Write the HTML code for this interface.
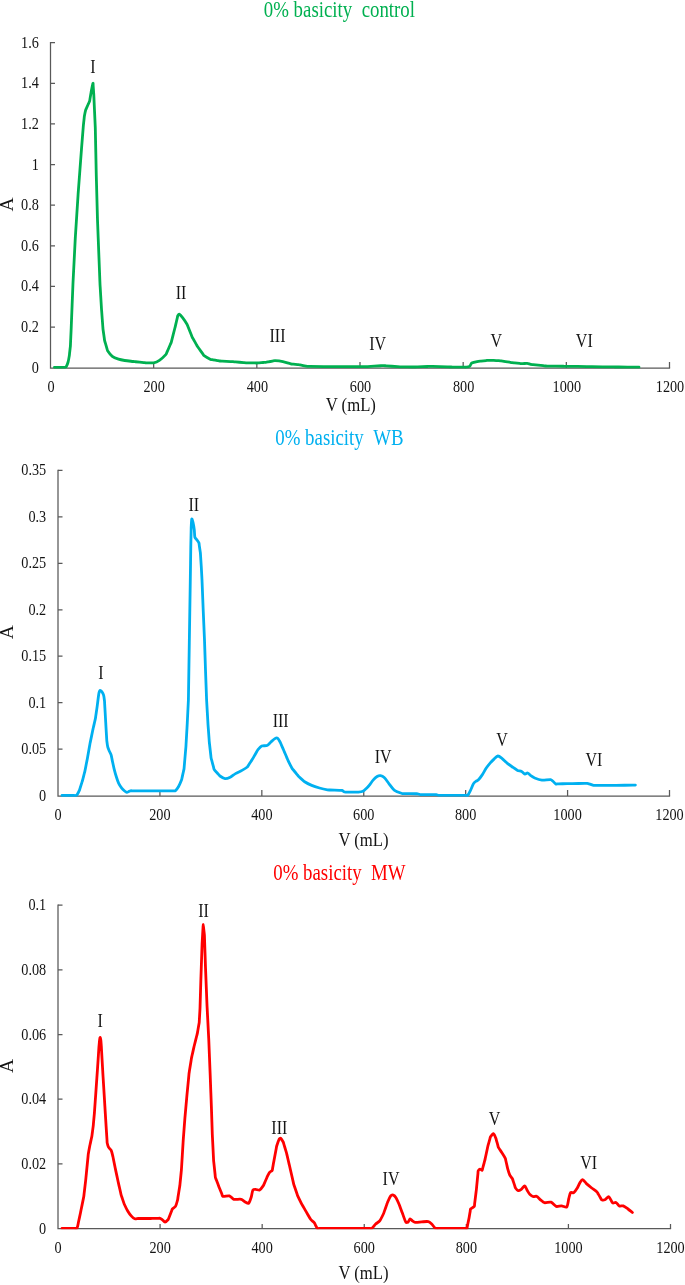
<!DOCTYPE html>
<html><head><meta charset="utf-8"><title>chart</title>
<style>
html,body{margin:0;padding:0;background:#fff;overflow:hidden}
svg{display:block;will-change:transform;font-family:"Liberation Serif","Times New Roman",serif}
</style></head><body>
<svg width="685" height="1285" viewBox="0 0 685 1285">
<rect width="685" height="1285" fill="#fff"/>
<path d="M50.50 42.08 V368.00 H670.12" fill="none" stroke="#595959" stroke-width="1.25"/>
<path d="M50.50 327.07h4.50M50.50 286.45h4.50M50.50 245.82h4.50M50.50 205.20h4.50M50.50 164.57h4.50M50.50 123.95h4.50M50.50 83.32h4.50M50.50 42.70h4.50M153.67 368.00v-6.00M256.83 368.00v-6.00M360.00 368.00v-6.00M463.17 368.00v-6.00M566.33 368.00v-6.00M669.50 368.00v-6.00" fill="none" stroke="#595959" stroke-width="1.25"/>
<text transform="translate(38.90 372.70) scale(0.890 1)" font-size="16.00" text-anchor="end" fill="#141414">0</text>
<text transform="translate(38.90 332.07) scale(0.890 1)" font-size="16.00" text-anchor="end" fill="#141414">0.2</text>
<text transform="translate(38.90 291.45) scale(0.890 1)" font-size="16.00" text-anchor="end" fill="#141414">0.4</text>
<text transform="translate(38.90 250.82) scale(0.890 1)" font-size="16.00" text-anchor="end" fill="#141414">0.6</text>
<text transform="translate(38.90 210.20) scale(0.890 1)" font-size="16.00" text-anchor="end" fill="#141414">0.8</text>
<text transform="translate(38.90 169.57) scale(0.890 1)" font-size="16.00" text-anchor="end" fill="#141414">1</text>
<text transform="translate(38.90 128.95) scale(0.890 1)" font-size="16.00" text-anchor="end" fill="#141414">1.2</text>
<text transform="translate(38.90 88.32) scale(0.890 1)" font-size="16.00" text-anchor="end" fill="#141414">1.4</text>
<text transform="translate(38.90 47.70) scale(0.890 1)" font-size="16.00" text-anchor="end" fill="#141414">1.6</text>
<text transform="translate(51.00 392.00) scale(0.890 1)" font-size="16.00" text-anchor="middle" fill="#141414">0</text>
<text transform="translate(154.17 392.00) scale(0.890 1)" font-size="16.00" text-anchor="middle" fill="#141414">200</text>
<text transform="translate(257.33 392.00) scale(0.890 1)" font-size="16.00" text-anchor="middle" fill="#141414">400</text>
<text transform="translate(360.50 392.00) scale(0.890 1)" font-size="16.00" text-anchor="middle" fill="#141414">600</text>
<text transform="translate(463.67 392.00) scale(0.890 1)" font-size="16.00" text-anchor="middle" fill="#141414">800</text>
<text transform="translate(566.83 392.00) scale(0.890 1)" font-size="16.00" text-anchor="middle" fill="#141414">1000</text>
<text transform="translate(670.00 392.00) scale(0.890 1)" font-size="16.00" text-anchor="middle" fill="#141414">1200</text>
<text transform="translate(350.80 410.60) scale(0.880 1)" font-size="19.00" text-anchor="middle" fill="#141414">V (mL)</text>
<text transform="translate(12.80 204.40) rotate(-90) scale(1.037 1)" font-size="18.80" text-anchor="middle" fill="#141414">A</text>
<text transform="translate(339.40 16.80) scale(0.802 1)" font-size="23.50" text-anchor="middle" fill="#00B050">0% basicity&#160;&#160;control</text>
<clipPath id="c368"><rect x="0" y="2.70" width="685" height="365.98"/></clipPath>
<path clip-path="url(#c368)" d="M54.40 367.30C55.07 367.30 56.23 367.30 56.90 367.30C58.37 367.30 60.93 367.30 62.40 367.30C63.07 367.30 64.25 367.39 64.90 367.30C65.26 367.25 66.02 367.10 66.20 366.80C66.87 365.69 67.73 363.32 68.10 362.00C68.56 360.36 69.02 357.39 69.30 355.70C69.41 355.04 69.51 353.88 69.58 353.22C69.72 351.95 69.98 349.75 70.12 348.48C70.19 347.82 70.35 346.66 70.40 346.00C70.45 345.34 70.48 344.17 70.51 343.50C70.67 340.06 70.93 334.04 71.09 330.60C71.12 329.93 71.17 328.77 71.20 328.10C71.23 327.43 71.27 326.27 71.30 325.60C71.73 314.91 72.47 296.19 72.90 285.50C72.93 284.83 72.97 283.67 73.00 283.00C73.03 282.33 73.09 281.17 73.13 280.50C73.67 269.81 74.63 251.09 75.17 240.40C75.21 239.73 75.26 238.57 75.30 237.90C75.34 237.23 75.42 236.07 75.46 235.41C76.15 224.71 77.35 205.99 78.04 195.29C78.08 194.63 78.15 193.47 78.20 192.80C78.25 192.13 78.34 190.97 78.39 190.31C79.19 179.61 80.61 160.89 81.41 150.19C81.46 149.53 81.55 148.36 81.60 147.70C81.65 147.04 81.75 145.87 81.80 145.21C82.17 140.51 82.83 132.29 83.20 127.59C83.25 126.93 83.34 125.76 83.40 125.10C83.46 124.44 83.60 123.28 83.67 122.61C83.79 121.51 84.01 119.59 84.13 118.49C84.20 117.82 84.28 116.66 84.40 116.00C84.70 114.37 85.26 111.50 85.70 109.90C85.88 109.26 86.44 108.22 86.71 107.61C87.21 106.49 88.09 104.51 88.59 103.39C88.86 102.78 89.41 101.73 89.60 101.10C89.79 100.47 89.91 99.29 90.02 98.64C90.30 96.99 90.80 94.11 91.08 92.46C91.19 91.81 91.36 90.65 91.50 90.00C91.88 88.21 92.67 84.12 93.00 83.30C93.12 83.00 93.13 85.13 93.17 85.79C93.29 87.56 93.51 90.64 93.63 92.41C93.67 93.07 93.76 94.23 93.80 94.90C93.84 95.57 93.88 96.73 93.91 97.40C94.25 104.89 94.85 118.01 95.19 125.50C95.22 126.17 95.28 127.33 95.30 128.00C95.32 128.67 95.34 129.83 95.35 130.50C95.59 141.97 96.01 162.03 96.25 173.50C96.26 174.17 96.28 175.33 96.30 176.00C96.32 176.67 96.35 177.83 96.37 178.50C96.65 188.90 97.15 207.10 97.43 217.50C97.45 218.17 97.48 219.33 97.50 220.00C97.52 220.67 97.57 221.83 97.60 222.50C97.92 230.77 98.48 245.23 98.80 253.50C98.83 254.17 98.87 255.33 98.90 256.00C98.93 256.67 98.97 257.83 99.00 258.50C99.24 264.63 99.66 275.37 99.90 281.50C99.93 282.17 99.97 283.33 100.00 284.00C100.03 284.67 100.11 285.83 100.15 286.50C100.47 291.83 101.03 301.17 101.35 306.50C101.39 307.17 101.46 308.33 101.50 309.00C101.54 309.67 101.64 310.83 101.69 311.49C101.99 315.50 102.51 322.50 102.81 326.51C102.86 327.17 102.93 328.34 103.00 329.00C103.07 329.66 103.25 330.82 103.34 331.48C103.59 333.22 104.01 336.28 104.26 338.02C104.35 338.68 104.46 339.85 104.60 340.50C104.74 341.15 105.12 342.26 105.31 342.90C105.73 344.34 106.47 346.86 106.89 348.30C107.08 348.94 107.24 350.15 107.60 350.70C108.68 352.31 110.79 355.22 112.30 356.40C113.69 357.49 116.79 358.63 118.50 359.20C120.09 359.73 123.03 360.24 124.70 360.50C126.93 360.85 130.86 361.24 133.10 361.50C133.76 361.58 134.92 361.68 135.59 361.75C137.78 361.96 141.62 362.34 143.81 362.55C144.48 362.62 145.63 362.78 146.30 362.80C148.24 362.85 151.72 363.14 153.60 362.80C155.22 362.50 158.03 361.33 159.40 360.40C161.34 359.09 164.42 356.13 166.00 354.40C166.44 353.92 166.73 352.72 167.00 352.11C167.85 350.16 169.35 346.74 170.20 344.79C170.47 344.18 170.98 343.13 171.20 342.50C171.42 341.87 171.65 340.72 171.82 340.08C172.55 337.18 173.85 332.12 174.58 329.22C174.75 328.58 175.04 327.45 175.20 326.80C175.36 326.15 175.62 325.01 175.77 324.37C176.16 322.70 176.84 319.80 177.23 318.13C177.38 317.49 177.49 316.26 177.80 315.70C178.07 315.21 179.00 314.00 179.40 314.20C180.42 314.72 182.20 317.21 183.10 318.40C184.23 319.88 186.05 322.61 187.00 324.20C187.34 324.77 187.69 325.90 187.94 326.52C188.85 328.77 190.45 332.73 191.36 334.98C191.61 335.60 192.01 336.70 192.30 337.30C192.59 337.90 193.20 338.90 193.53 339.48C194.26 340.77 195.54 343.03 196.27 344.32C196.60 344.90 197.14 345.94 197.50 346.50C197.86 347.06 198.57 347.99 198.96 348.53C199.94 349.90 201.66 352.30 202.64 353.67C203.03 354.21 203.57 355.32 204.10 355.70C205.69 356.85 208.81 358.57 210.60 359.40C211.20 359.68 212.41 359.71 213.06 359.83C214.20 360.03 216.20 360.37 217.34 360.57C217.99 360.69 219.14 360.93 219.80 361.00C220.46 361.07 221.63 361.10 222.30 361.13C224.49 361.25 228.31 361.45 230.50 361.57C231.17 361.60 232.33 361.65 233.00 361.70C233.67 361.75 234.83 361.85 235.49 361.91C237.66 362.09 241.44 362.41 243.61 362.59C244.27 362.65 245.43 362.77 246.10 362.80C246.77 362.83 247.93 362.83 248.60 362.85C250.07 362.88 252.63 362.92 254.10 362.95C254.77 362.97 255.93 363.02 256.60 363.00C257.27 362.98 258.43 362.86 259.09 362.81C260.22 362.72 262.18 362.58 263.31 362.49C263.97 362.44 265.14 362.38 265.80 362.30C266.46 362.22 267.61 361.99 268.26 361.87C269.40 361.67 271.40 361.33 272.54 361.13C273.19 361.01 274.34 360.66 275.00 360.70C277.10 360.82 280.82 361.29 282.90 361.70C285.03 362.12 288.68 363.31 290.80 363.80C291.45 363.95 292.62 364.02 293.28 364.10C294.41 364.23 296.39 364.47 297.52 364.60C298.18 364.68 299.34 364.78 300.00 364.90C302.01 365.26 305.49 366.09 307.50 366.40C308.16 366.50 309.33 366.42 310.00 366.42C317.33 366.49 330.17 366.61 337.50 366.68C338.17 366.68 339.33 366.70 340.00 366.70C340.67 366.70 341.83 366.70 342.50 366.70C347.83 366.70 357.17 366.70 362.50 366.70C363.17 366.70 364.33 366.72 365.00 366.70C365.67 366.68 366.83 366.59 367.50 366.55C371.07 366.34 377.33 365.96 380.90 365.75C381.57 365.71 382.73 365.59 383.40 365.60C384.07 365.61 385.23 365.74 385.89 365.80C388.99 366.04 394.41 366.46 397.51 366.70C398.17 366.76 399.33 366.87 400.00 366.90C400.67 366.93 401.83 366.91 402.50 366.92C405.17 366.93 409.83 366.97 412.50 366.98C413.17 366.99 414.33 367.01 415.00 367.00C415.67 366.99 416.83 366.93 417.50 366.90C420.17 366.79 424.83 366.61 427.50 366.50C428.17 366.47 429.33 366.40 430.00 366.40C430.67 366.40 431.83 366.45 432.50 366.47C436.50 366.59 443.50 366.81 447.50 366.93C448.17 366.95 449.33 366.99 450.00 367.00C450.67 367.01 451.83 367.02 452.50 367.03C455.43 367.07 460.57 367.13 463.50 367.17C464.17 367.18 465.34 367.28 466.00 367.20C466.97 367.08 468.86 366.93 469.60 366.40C470.41 365.81 470.92 363.50 471.80 363.00C473.30 362.14 476.70 361.68 478.50 361.30C479.15 361.16 480.32 361.12 480.99 361.05C482.35 360.92 484.75 360.68 486.11 360.55C486.78 360.48 487.94 360.32 488.60 360.30C489.26 360.28 490.43 360.35 491.10 360.37C492.46 360.41 494.84 360.49 496.20 360.53C496.87 360.55 498.04 360.54 498.70 360.60C499.36 360.66 500.51 360.87 501.17 360.97C503.43 361.31 507.37 361.89 509.63 362.23C510.29 362.33 511.44 362.51 512.10 362.60C512.76 362.69 513.92 362.80 514.59 362.87C515.95 363.02 518.35 363.28 519.71 363.43C520.38 363.50 521.54 363.71 522.20 363.70C523.53 363.68 525.89 363.21 527.20 363.30C528.13 363.37 529.68 364.10 530.60 364.30C531.25 364.44 532.42 364.51 533.08 364.58C535.79 364.88 540.51 365.42 543.22 365.72C543.88 365.79 545.04 365.96 545.70 366.00C546.36 366.04 547.53 366.03 548.20 366.04C552.23 366.10 559.27 366.20 563.30 366.26C563.97 366.27 565.13 366.29 565.80 366.30C566.47 366.31 567.63 366.32 568.30 366.33C573.23 366.39 581.87 366.51 586.80 366.57C587.47 366.58 588.63 366.59 589.30 366.60C589.97 366.61 591.13 366.63 591.80 366.64C597.64 366.72 607.86 366.88 613.70 366.96C614.37 366.97 615.53 366.99 616.20 367.00C616.87 367.01 618.03 367.02 618.70 367.02C623.45 367.06 631.75 367.14 636.50 367.18C637.17 367.18 638.33 367.19 639.00 367.20" fill="none" stroke="#00B050" stroke-width="2.80" stroke-linejoin="round" stroke-linecap="round"/>
<text transform="translate(93.00 73.00) scale(0.820 1)" font-size="19.50" text-anchor="middle" fill="#141414">I</text>
<text transform="translate(181.00 299.00) scale(0.820 1)" font-size="19.50" text-anchor="middle" fill="#141414">II</text>
<text transform="translate(277.50 342.00) scale(0.820 1)" font-size="19.50" text-anchor="middle" fill="#141414">III</text>
<text transform="translate(377.60 349.50) scale(0.820 1)" font-size="19.50" text-anchor="middle" fill="#141414">IV</text>
<text transform="translate(496.30 346.80) scale(0.820 1)" font-size="19.50" text-anchor="middle" fill="#141414">V</text>
<text transform="translate(584.30 346.80) scale(0.820 1)" font-size="19.50" text-anchor="middle" fill="#141414">VI</text>
<path d="M58.00 469.68 V796.00 H670.12" fill="none" stroke="#595959" stroke-width="1.25"/>
<path d="M58.00 749.21h4.50M58.00 702.73h4.50M58.00 656.24h4.50M58.00 609.76h4.50M58.00 563.27h4.50M58.00 516.79h4.50M58.00 470.30h4.50M159.92 796.00v-6.00M261.83 796.00v-6.00M363.75 796.00v-6.00M465.67 796.00v-6.00M567.58 796.00v-6.00M669.50 796.00v-6.00" fill="none" stroke="#595959" stroke-width="1.25"/>
<text transform="translate(46.20 800.70) scale(0.890 1)" font-size="16.00" text-anchor="end" fill="#141414">0</text>
<text transform="translate(46.20 754.21) scale(0.890 1)" font-size="16.00" text-anchor="end" fill="#141414">0.05</text>
<text transform="translate(46.20 707.73) scale(0.890 1)" font-size="16.00" text-anchor="end" fill="#141414">0.1</text>
<text transform="translate(46.20 661.24) scale(0.890 1)" font-size="16.00" text-anchor="end" fill="#141414">0.15</text>
<text transform="translate(46.20 614.76) scale(0.890 1)" font-size="16.00" text-anchor="end" fill="#141414">0.2</text>
<text transform="translate(46.20 568.27) scale(0.890 1)" font-size="16.00" text-anchor="end" fill="#141414">0.25</text>
<text transform="translate(46.20 521.79) scale(0.890 1)" font-size="16.00" text-anchor="end" fill="#141414">0.3</text>
<text transform="translate(46.20 475.30) scale(0.890 1)" font-size="16.00" text-anchor="end" fill="#141414">0.35</text>
<text transform="translate(58.00 819.80) scale(0.890 1)" font-size="16.00" text-anchor="middle" fill="#141414">0</text>
<text transform="translate(159.92 819.80) scale(0.890 1)" font-size="16.00" text-anchor="middle" fill="#141414">200</text>
<text transform="translate(261.83 819.80) scale(0.890 1)" font-size="16.00" text-anchor="middle" fill="#141414">400</text>
<text transform="translate(363.75 819.80) scale(0.890 1)" font-size="16.00" text-anchor="middle" fill="#141414">600</text>
<text transform="translate(465.67 819.80) scale(0.890 1)" font-size="16.00" text-anchor="middle" fill="#141414">800</text>
<text transform="translate(567.58 819.80) scale(0.890 1)" font-size="16.00" text-anchor="middle" fill="#141414">1000</text>
<text transform="translate(669.50 819.80) scale(0.890 1)" font-size="16.00" text-anchor="middle" fill="#141414">1200</text>
<text transform="translate(363.50 845.90) scale(0.880 1)" font-size="19.00" text-anchor="middle" fill="#141414">V (mL)</text>
<text transform="translate(12.80 632.20) rotate(-90) scale(1.037 1)" font-size="18.80" text-anchor="middle" fill="#141414">A</text>
<text transform="translate(339.40 444.70) scale(0.802 1)" font-size="23.50" text-anchor="middle" fill="#00B0F0">0% basicity&#160;&#160;WB</text>
<clipPath id="c796"><rect x="0" y="430.30" width="685" height="366.37"/></clipPath>
<path clip-path="url(#c796)" d="M62.00 795.50C62.67 795.50 63.83 795.50 64.50 795.50C66.85 795.50 70.95 795.50 73.30 795.50C73.97 795.50 75.15 795.59 75.80 795.50C76.11 795.46 76.73 795.26 76.90 795.00C77.74 793.74 78.96 791.22 79.60 789.80C79.87 789.19 80.15 788.05 80.34 787.41C80.72 786.21 81.38 784.09 81.76 782.89C81.95 782.25 82.32 781.14 82.50 780.50C82.68 779.86 82.95 778.72 83.12 778.08C83.43 776.86 83.97 774.74 84.28 773.52C84.45 772.88 84.75 771.75 84.90 771.10C85.05 770.45 85.25 769.30 85.38 768.65C85.74 766.84 86.36 763.66 86.72 761.85C86.85 761.20 87.08 760.06 87.20 759.40C87.32 758.74 87.52 757.60 87.64 756.94C88.18 753.90 89.12 748.60 89.66 745.56C89.78 744.90 89.97 743.75 90.10 743.10C90.23 742.45 90.47 741.30 90.61 740.65C91.11 738.22 91.99 733.98 92.49 731.55C92.63 730.90 92.86 729.75 93.00 729.10C93.14 728.45 93.41 727.31 93.56 726.66C93.90 725.16 94.50 722.54 94.84 721.04C94.99 720.39 95.28 719.25 95.40 718.60C95.52 717.95 95.66 716.79 95.76 716.13C96.02 714.33 96.48 711.17 96.74 709.37C96.84 708.71 97.01 707.56 97.10 706.90C97.19 706.24 97.33 705.08 97.42 704.42C97.57 703.24 97.83 701.16 97.98 699.98C98.07 699.32 98.20 698.16 98.30 697.50C98.50 696.11 98.78 693.65 99.10 692.30C99.23 691.76 99.65 690.48 100.00 690.40C100.37 690.32 101.45 691.24 101.80 691.70C102.41 692.52 103.31 694.20 103.60 695.20C104.03 696.68 104.31 699.45 104.50 701.00C104.58 701.66 104.60 702.83 104.64 703.50C104.78 705.90 105.02 710.10 105.16 712.50C105.20 713.17 105.26 714.33 105.30 715.00C105.34 715.67 105.40 716.83 105.44 717.50C105.58 719.92 105.82 724.18 105.96 726.60C106.00 727.27 106.06 728.43 106.10 729.10C106.14 729.77 106.21 730.93 106.25 731.60C106.36 733.36 106.54 736.44 106.65 738.20C106.69 738.87 106.72 740.04 106.80 740.70C107.02 742.44 107.38 745.51 107.80 747.20C108.08 748.33 108.93 750.22 109.40 751.30C109.81 752.25 110.79 753.82 111.10 754.80C111.57 756.30 111.97 759.06 112.30 760.60C112.77 762.79 113.56 766.63 114.10 768.80C114.65 771.00 115.72 774.84 116.40 777.00C116.94 778.73 117.92 781.77 118.70 783.40C119.34 784.73 120.79 786.93 121.70 788.10C122.37 788.96 123.76 790.31 124.60 791.00C125.15 791.45 126.27 792.31 126.90 792.40C127.36 792.47 128.22 791.82 128.70 791.60C129.16 791.39 129.92 790.89 130.40 790.80C131.04 790.68 132.23 790.80 132.90 790.80C136.37 790.80 142.43 790.80 145.90 790.80C146.57 790.80 147.73 790.80 148.40 790.80C149.07 790.80 150.23 790.80 150.90 790.80C156.74 790.80 166.96 790.80 172.80 790.80C173.47 790.80 174.81 791.16 175.30 790.80C176.36 790.02 177.89 787.75 178.60 786.50C179.57 784.81 180.90 781.62 181.60 779.80C181.84 779.18 182.00 778.01 182.14 777.36C182.49 775.78 183.11 773.02 183.46 771.44C183.60 770.79 183.90 769.66 184.00 769.00C184.10 768.34 184.16 767.17 184.22 766.51C184.61 761.97 185.29 754.03 185.68 749.49C185.74 748.83 185.85 747.66 185.90 747.00C185.95 746.34 186.01 745.17 186.04 744.50C186.31 739.81 186.79 731.59 187.06 726.90C187.09 726.23 187.16 725.07 187.20 724.40C187.24 723.73 187.29 722.57 187.32 721.90C187.58 716.73 188.02 707.67 188.28 702.50C188.31 701.83 188.38 700.67 188.40 700.00C188.42 699.33 188.43 698.17 188.44 697.50C188.67 682.83 189.08 657.17 189.31 642.50C189.32 641.83 189.34 640.67 189.35 640.00C189.36 639.33 189.38 638.17 189.39 637.50C189.62 622.83 190.03 597.17 190.26 582.50C190.27 581.83 190.29 580.67 190.30 580.00C190.31 579.33 190.33 578.17 190.34 577.50C190.45 569.77 190.65 556.23 190.76 548.50C190.77 547.83 190.79 546.67 190.80 546.00C190.81 545.33 190.84 544.17 190.85 543.50C190.93 539.87 191.07 533.53 191.15 529.90C191.16 529.23 191.16 528.07 191.20 527.40C191.33 525.13 191.47 519.83 191.80 518.90C191.95 518.50 192.78 521.44 193.00 522.40C193.45 524.37 194.04 527.89 194.30 529.90C194.55 531.86 194.43 535.44 194.90 537.30C195.10 538.08 196.31 539.12 196.80 539.80C197.38 540.61 198.51 542.01 198.90 542.90C199.16 543.49 199.17 544.71 199.27 545.37C199.47 546.75 199.83 549.15 200.03 550.53C200.13 551.19 200.33 552.34 200.40 553.00C200.47 553.66 200.52 554.83 200.56 555.49C200.71 557.90 200.99 562.10 201.14 564.51C201.18 565.17 201.26 566.33 201.30 567.00C201.34 567.67 201.40 568.83 201.43 569.50C201.55 571.63 201.75 575.37 201.87 577.50C201.90 578.17 201.97 579.33 202.00 580.00C202.03 580.67 202.07 581.83 202.10 582.50C202.37 589.17 202.83 600.83 203.10 607.50C203.13 608.17 203.17 609.33 203.20 610.00C203.23 610.67 203.28 611.83 203.31 612.50C203.60 619.17 204.10 630.83 204.39 637.50C204.42 638.17 204.47 639.33 204.50 640.00C204.53 640.67 204.56 641.83 204.58 642.50C204.81 649.17 205.19 660.83 205.42 667.50C205.44 668.17 205.48 669.33 205.50 670.00C205.52 670.67 205.57 671.83 205.59 672.50C205.84 679.17 206.26 690.83 206.51 697.50C206.53 698.17 206.57 699.33 206.60 700.00C206.63 700.67 206.71 701.83 206.74 702.50C207.04 707.67 207.56 716.73 207.86 721.90C207.89 722.57 207.96 723.73 208.00 724.40C208.04 725.07 208.14 726.23 208.18 726.89C208.43 730.26 208.87 736.14 209.12 739.51C209.16 740.17 209.24 741.34 209.30 742.00C209.36 742.66 209.50 743.82 209.58 744.48C209.91 747.43 210.49 752.57 210.82 755.52C210.90 756.18 210.98 757.35 211.10 758.00C211.22 758.65 211.57 759.77 211.75 760.42C212.23 762.22 213.07 765.38 213.55 767.18C213.73 767.83 213.85 769.05 214.20 769.60C214.88 770.66 216.54 772.25 217.40 773.20C218.08 773.95 219.18 775.42 220.00 776.00C221.21 776.86 223.61 778.44 225.00 778.60C226.33 778.76 228.92 777.81 230.20 777.20C231.72 776.48 234.02 774.45 235.50 773.60C237.17 772.64 240.32 771.34 242.00 770.40C243.46 769.58 246.03 768.05 247.30 767.00C247.81 766.58 248.31 765.47 248.67 764.91C249.33 763.92 250.47 762.18 251.13 761.19C251.49 760.63 252.15 759.67 252.50 759.10C252.85 758.53 253.42 757.51 253.75 756.93C254.50 755.64 255.80 753.36 256.55 752.07C256.88 751.49 257.37 750.40 257.80 749.90C258.74 748.79 260.45 746.60 261.70 746.00C262.90 745.42 265.76 746.04 267.00 745.50C268.22 744.97 269.85 742.92 270.90 742.00C271.95 741.08 273.73 739.29 274.90 738.60C275.49 738.25 277.00 737.77 277.50 738.10C278.39 738.68 279.47 740.92 280.10 742.00C280.43 742.57 280.83 743.68 281.10 744.29C281.63 745.52 282.57 747.68 283.10 748.91C283.37 749.52 283.84 750.59 284.10 751.20C284.36 751.81 284.82 752.89 285.08 753.50C285.60 754.73 286.50 756.87 287.02 758.10C287.28 758.71 287.71 759.80 288.00 760.40C289.03 762.52 290.84 766.26 292.00 768.30C292.33 768.88 293.16 769.72 293.59 770.23C294.47 771.31 296.03 773.19 296.91 774.27C297.34 774.78 298.02 775.74 298.50 776.20C300.20 777.80 303.19 780.67 305.10 782.00C306.71 783.12 309.88 784.64 311.70 785.40C313.72 786.24 317.39 787.40 319.50 788.00C321.58 788.60 325.28 789.49 327.40 789.90C328.05 790.02 329.23 789.96 329.90 789.99C332.43 790.07 336.87 790.23 339.40 790.31C340.07 790.34 341.29 790.20 341.90 790.40C342.65 790.65 343.75 791.76 344.50 792.00C345.11 792.20 346.33 792.03 347.00 792.04C349.16 792.07 352.94 792.13 355.10 792.16C355.77 792.17 356.94 792.28 357.60 792.20C359.02 792.02 361.63 791.78 362.90 791.20C364.09 790.66 365.81 788.91 366.80 788.00C367.49 787.36 368.61 786.14 369.20 785.40C370.29 784.03 371.94 781.41 373.10 780.10C374.05 779.03 375.90 777.21 377.10 776.50C377.88 776.04 379.63 775.58 380.50 775.70C381.52 775.84 383.42 776.77 384.20 777.50C385.66 778.87 387.62 781.99 388.90 783.60C390.29 785.35 392.47 788.79 394.20 790.10C395.96 791.43 399.88 792.79 402.00 793.50C402.62 793.71 403.83 793.53 404.50 793.55C407.38 793.60 412.42 793.70 415.30 793.75C415.97 793.77 417.15 793.69 417.80 793.80C418.51 793.92 419.69 794.49 420.40 794.60C421.05 794.70 422.23 794.60 422.90 794.60C425.78 794.60 430.82 794.60 433.70 794.60C434.37 794.60 435.55 794.50 436.20 794.60C436.91 794.71 438.09 795.29 438.80 795.40C439.45 795.50 440.63 795.40 441.30 795.40C447.67 795.40 458.83 795.40 465.20 795.40C465.87 795.40 467.27 795.80 467.70 795.40C468.65 794.52 469.75 791.92 470.40 790.60C471.30 788.77 472.50 785.35 473.50 783.60C473.89 782.92 474.97 781.97 475.60 781.50C476.22 781.03 477.65 780.65 478.20 780.10C479.41 778.89 481.23 776.35 482.20 774.90C483.34 773.20 484.96 770.00 486.10 768.30C487.07 766.85 488.96 764.43 490.10 763.10C491.07 761.97 492.90 760.10 494.00 759.10C494.98 758.21 496.81 756.11 497.90 756.00C498.91 755.90 500.93 757.55 501.90 758.30C503.39 759.45 505.65 761.90 507.10 763.10C508.45 764.22 510.96 766.00 512.40 767.00C513.76 767.95 516.13 769.68 517.60 770.40C518.58 770.88 520.63 771.01 521.60 771.50C522.60 772.00 524.04 773.86 525.00 774.10C525.64 774.26 526.98 772.83 527.60 773.00C528.52 773.25 529.89 775.06 530.80 775.70C531.78 776.39 533.59 777.56 534.70 778.00C536.55 778.73 539.94 779.90 541.90 780.10C544.21 780.33 548.44 779.41 550.70 779.60C551.32 779.65 552.21 780.58 552.70 781.00C553.54 781.72 554.78 783.43 555.70 783.90C556.25 784.18 557.53 783.86 558.20 783.85C560.60 783.80 564.80 783.70 567.20 783.65C567.87 783.64 569.03 783.61 569.70 783.60C570.37 783.59 571.53 783.58 572.20 783.57C575.53 783.53 581.37 783.47 584.70 783.43C585.37 783.42 586.55 783.31 587.20 783.40C587.99 783.51 589.33 783.96 590.10 784.20C591.04 784.49 592.65 785.21 593.60 785.40C594.25 785.53 595.43 785.40 596.10 785.40C600.07 785.40 607.03 785.40 611.00 785.40C611.67 785.40 612.83 785.40 613.50 785.40C614.17 785.40 615.33 785.37 616.00 785.37C620.51 785.30 628.39 785.20 632.90 785.13C633.57 785.13 634.73 785.11 635.40 785.10" fill="none" stroke="#00B0F0" stroke-width="2.80" stroke-linejoin="round" stroke-linecap="round"/>
<text transform="translate(101.00 678.50) scale(0.820 1)" font-size="19.50" text-anchor="middle" fill="#141414">I</text>
<text transform="translate(193.70 511.10) scale(0.820 1)" font-size="19.50" text-anchor="middle" fill="#141414">II</text>
<text transform="translate(280.70 726.70) scale(0.820 1)" font-size="19.50" text-anchor="middle" fill="#141414">III</text>
<text transform="translate(383.10 762.50) scale(0.820 1)" font-size="19.50" text-anchor="middle" fill="#141414">IV</text>
<text transform="translate(501.90 745.50) scale(0.820 1)" font-size="19.50" text-anchor="middle" fill="#141414">V</text>
<text transform="translate(594.00 765.50) scale(0.820 1)" font-size="19.50" text-anchor="middle" fill="#141414">VI</text>
<path d="M58.00 904.58 V1228.50 H671.12" fill="none" stroke="#595959" stroke-width="1.25"/>
<path d="M58.00 1163.84h4.50M58.00 1099.18h4.50M58.00 1034.52h4.50M58.00 969.86h4.50M58.00 905.20h4.50M160.08 1228.50v-4.60M262.17 1228.50v-4.60M364.25 1228.50v-4.60M466.33 1228.50v-4.60M568.42 1228.50v-4.60M670.50 1228.50v-4.60" fill="none" stroke="#595959" stroke-width="1.25"/>
<text transform="translate(46.20 1233.50) scale(0.890 1)" font-size="16.00" text-anchor="end" fill="#141414">0</text>
<text transform="translate(46.20 1168.84) scale(0.890 1)" font-size="16.00" text-anchor="end" fill="#141414">0.02</text>
<text transform="translate(46.20 1104.18) scale(0.890 1)" font-size="16.00" text-anchor="end" fill="#141414">0.04</text>
<text transform="translate(46.20 1039.52) scale(0.890 1)" font-size="16.00" text-anchor="end" fill="#141414">0.06</text>
<text transform="translate(46.20 974.86) scale(0.890 1)" font-size="16.00" text-anchor="end" fill="#141414">0.08</text>
<text transform="translate(46.20 910.20) scale(0.890 1)" font-size="16.00" text-anchor="end" fill="#141414">0.1</text>
<text transform="translate(58.00 1253.00) scale(0.890 1)" font-size="16.00" text-anchor="middle" fill="#141414">0</text>
<text transform="translate(160.08 1253.00) scale(0.890 1)" font-size="16.00" text-anchor="middle" fill="#141414">200</text>
<text transform="translate(262.17 1253.00) scale(0.890 1)" font-size="16.00" text-anchor="middle" fill="#141414">400</text>
<text transform="translate(364.25 1253.00) scale(0.890 1)" font-size="16.00" text-anchor="middle" fill="#141414">600</text>
<text transform="translate(466.33 1253.00) scale(0.890 1)" font-size="16.00" text-anchor="middle" fill="#141414">800</text>
<text transform="translate(568.42 1253.00) scale(0.890 1)" font-size="16.00" text-anchor="middle" fill="#141414">1000</text>
<text transform="translate(670.50 1253.00) scale(0.890 1)" font-size="16.00" text-anchor="middle" fill="#141414">1200</text>
<text transform="translate(363.50 1279.30) scale(0.880 1)" font-size="19.00" text-anchor="middle" fill="#141414">V (mL)</text>
<text transform="translate(12.80 1066.05) rotate(-90) scale(1.037 1)" font-size="18.80" text-anchor="middle" fill="#141414">A</text>
<text transform="translate(339.40 879.70) scale(0.802 1)" font-size="23.50" text-anchor="middle" fill="#FF0000">0% basicity&#160;&#160;MW</text>
<clipPath id="c1228"><rect x="0" y="865.20" width="685" height="363.97"/></clipPath>
<path clip-path="url(#c1228)" d="M62.00 1228.40C62.67 1228.40 63.83 1228.40 64.50 1228.40C67.14 1228.40 71.76 1228.40 74.40 1228.40C75.07 1228.40 76.61 1228.88 76.90 1228.40C77.73 1227.04 78.17 1223.35 78.60 1221.50C79.13 1219.19 80.00 1215.12 80.50 1212.80C80.64 1212.15 80.86 1211.00 80.99 1210.35C81.61 1207.28 82.69 1201.92 83.31 1198.85C83.44 1198.20 83.70 1197.06 83.80 1196.40C83.90 1195.74 84.01 1194.58 84.09 1193.92C84.44 1190.89 85.06 1185.61 85.41 1182.58C85.49 1181.92 85.63 1180.76 85.70 1180.10C85.77 1179.44 85.88 1178.28 85.95 1177.61C86.16 1175.45 86.54 1171.65 86.75 1169.49C86.82 1168.82 86.93 1167.66 87.00 1167.00C87.07 1166.34 87.18 1165.18 87.25 1164.51C87.46 1162.37 87.84 1158.63 88.05 1156.49C88.12 1155.82 88.19 1154.66 88.30 1154.00C88.66 1151.81 89.38 1147.98 89.80 1145.80C89.92 1145.15 90.18 1144.01 90.32 1143.36C90.60 1142.05 91.10 1139.75 91.38 1138.44C91.52 1137.79 91.79 1136.66 91.90 1136.00C92.01 1135.34 92.14 1134.18 92.23 1133.52C92.40 1132.23 92.70 1129.97 92.87 1128.68C92.96 1128.02 93.13 1126.86 93.20 1126.20C93.27 1125.54 93.37 1124.37 93.43 1123.71C93.63 1121.57 93.97 1117.83 94.17 1115.69C94.23 1115.03 94.35 1113.86 94.40 1113.20C94.45 1112.54 94.53 1111.37 94.57 1110.71C94.91 1105.93 95.49 1097.57 95.83 1092.79C95.87 1092.13 95.95 1090.97 96.00 1090.30C96.05 1089.63 96.13 1088.47 96.17 1087.81C96.53 1082.60 97.17 1073.50 97.53 1068.29C97.57 1067.63 97.65 1066.47 97.70 1065.80C97.75 1065.13 97.82 1063.97 97.87 1063.31C98.12 1059.41 98.58 1052.59 98.83 1048.69C98.88 1048.03 98.94 1046.86 99.00 1046.20C99.17 1044.33 99.45 1041.05 99.70 1039.20C99.77 1038.71 100.08 1037.31 100.20 1037.40C100.37 1037.53 100.71 1039.30 100.80 1040.00C101.00 1041.59 101.18 1044.40 101.30 1046.00C101.35 1046.66 101.40 1047.83 101.44 1048.50C101.79 1054.63 102.41 1065.37 102.76 1071.50C102.80 1072.17 102.86 1073.33 102.90 1074.00C102.94 1074.67 103.01 1075.83 103.05 1076.50C103.45 1083.00 104.15 1094.40 104.55 1100.90C104.59 1101.57 104.66 1102.73 104.70 1103.40C104.74 1104.07 104.81 1105.23 104.85 1105.90C105.14 1110.64 105.66 1118.96 105.95 1123.70C105.99 1124.37 106.06 1125.53 106.10 1126.20C106.14 1126.87 106.22 1128.03 106.26 1128.69C106.47 1131.84 106.83 1137.36 107.04 1140.51C107.08 1141.17 107.06 1142.35 107.20 1143.00C107.45 1144.14 107.95 1146.19 108.50 1147.20C109.02 1148.14 110.75 1149.33 111.20 1150.30C111.95 1151.94 112.55 1155.21 113.00 1157.00C113.16 1157.65 113.36 1158.80 113.49 1159.45C113.87 1161.32 114.53 1164.58 114.91 1166.45C115.04 1167.10 115.26 1168.25 115.40 1168.90C115.54 1169.55 115.78 1170.69 115.92 1171.34C116.44 1173.77 117.36 1178.03 117.88 1180.46C118.02 1181.11 118.26 1182.25 118.40 1182.90C118.54 1183.55 118.81 1184.69 118.95 1185.34C119.41 1187.32 120.19 1190.78 120.65 1192.76C120.79 1193.41 121.02 1194.56 121.20 1195.20C121.38 1195.84 121.79 1196.94 122.01 1197.57C122.38 1198.65 123.02 1200.55 123.39 1201.63C123.61 1202.26 123.92 1203.40 124.20 1204.00C125.07 1205.89 126.65 1209.21 127.70 1211.00C128.51 1212.38 130.14 1214.71 131.20 1215.90C132.00 1216.79 133.65 1218.41 134.70 1218.80C135.51 1219.10 137.27 1218.55 138.20 1218.50C138.87 1218.47 140.03 1218.50 140.70 1218.50C142.41 1218.50 145.39 1218.50 147.10 1218.50C147.77 1218.50 148.93 1218.51 149.60 1218.50C150.27 1218.49 151.43 1218.47 152.10 1218.45C153.57 1218.42 156.13 1218.38 157.60 1218.35C158.27 1218.33 159.49 1218.12 160.10 1218.30C160.72 1218.48 161.66 1219.29 162.20 1219.70C162.97 1220.28 164.25 1222.03 165.00 1222.00C165.85 1221.97 167.52 1220.30 168.20 1219.50C168.62 1219.01 168.88 1217.80 169.13 1217.18C169.75 1215.62 170.85 1212.88 171.47 1211.32C171.72 1210.70 171.99 1209.50 172.40 1209.00C173.06 1208.19 174.99 1207.30 175.50 1206.40C176.38 1204.85 177.11 1201.58 177.60 1199.80C177.78 1199.16 177.88 1197.99 177.98 1197.33C178.39 1194.70 179.11 1190.10 179.52 1187.47C179.62 1186.81 179.82 1185.66 179.90 1185.00C179.98 1184.34 180.08 1183.18 180.15 1182.51C180.42 1179.84 180.88 1175.16 181.15 1172.49C181.22 1171.82 181.35 1170.66 181.40 1170.00C181.45 1169.34 181.51 1168.17 181.55 1167.50C181.95 1161.02 182.65 1149.68 183.05 1143.20C183.09 1142.53 183.15 1141.37 183.20 1140.70C183.25 1140.03 183.34 1138.87 183.39 1138.21C183.74 1133.54 184.36 1125.36 184.71 1120.69C184.76 1120.03 184.85 1118.86 184.90 1118.20C184.95 1117.54 185.06 1116.37 185.12 1115.71C185.54 1111.01 186.26 1102.79 186.68 1098.09C186.74 1097.43 186.84 1096.26 186.90 1095.60C186.96 1094.94 187.08 1093.78 187.14 1093.11C187.60 1088.41 188.40 1080.19 188.86 1075.49C188.92 1074.82 189.02 1073.66 189.10 1073.00C189.18 1072.34 189.39 1071.19 189.49 1070.53C189.92 1067.85 190.68 1063.15 191.11 1060.47C191.21 1059.81 191.38 1058.65 191.50 1058.00C191.62 1057.35 191.90 1056.21 192.04 1055.56C192.39 1053.98 193.01 1051.22 193.36 1049.64C193.50 1048.99 193.75 1047.85 193.90 1047.20C194.05 1046.55 194.34 1045.42 194.50 1044.77C195.11 1042.31 196.19 1037.99 196.80 1035.53C196.96 1034.88 197.26 1033.75 197.40 1033.10C197.54 1032.45 197.71 1031.29 197.82 1030.64C198.08 1029.15 198.52 1026.55 198.78 1025.06C198.89 1024.41 199.12 1023.26 199.20 1022.60C199.28 1021.94 199.30 1020.77 199.34 1020.10C199.48 1017.70 199.72 1013.50 199.86 1011.10C199.90 1010.43 199.97 1009.27 200.00 1008.60C200.03 1007.93 200.06 1006.77 200.08 1006.10C200.28 999.49 200.62 987.91 200.82 981.30C200.84 980.63 200.88 979.47 200.90 978.80C200.92 978.13 200.96 976.97 200.99 976.30C201.26 968.30 201.74 954.30 202.01 946.30C202.04 945.63 202.07 944.47 202.10 943.80C202.13 943.13 202.20 941.97 202.24 941.30C202.46 937.49 202.84 930.81 203.06 927.00C203.10 926.33 203.14 924.50 203.20 924.50C203.26 924.50 203.41 926.32 203.48 926.98C203.65 928.46 203.95 931.04 204.12 932.52C204.19 933.18 204.35 934.34 204.40 935.00C204.45 935.66 204.46 936.83 204.49 937.50C204.76 945.53 205.24 959.57 205.51 967.60C205.54 968.27 205.58 969.43 205.60 970.10C205.62 970.77 205.67 971.93 205.70 972.60C206.02 980.60 206.58 994.60 206.90 1002.60C206.93 1003.27 206.97 1004.43 207.00 1005.10C207.03 1005.77 207.09 1006.93 207.13 1007.60C207.54 1015.63 208.26 1029.67 208.67 1037.70C208.71 1038.37 208.77 1039.53 208.80 1040.20C208.83 1040.87 208.87 1042.03 208.90 1042.70C209.22 1050.70 209.78 1064.70 210.10 1072.70C210.13 1073.37 210.17 1074.53 210.20 1075.20C210.23 1075.87 210.27 1077.03 210.29 1077.70C210.59 1085.65 211.11 1099.55 211.41 1107.50C211.43 1108.17 211.48 1109.33 211.50 1110.00C211.52 1110.67 211.56 1111.83 211.58 1112.50C211.75 1117.62 212.05 1126.58 212.22 1131.70C212.24 1132.37 212.27 1133.53 212.30 1134.20C212.33 1134.87 212.39 1136.03 212.42 1136.70C212.70 1142.35 213.20 1152.25 213.48 1157.90C213.51 1158.57 213.55 1159.74 213.60 1160.40C213.65 1161.06 213.79 1162.22 213.86 1162.89C214.20 1166.12 214.80 1171.78 215.14 1175.01C215.21 1175.68 215.25 1176.86 215.40 1177.50C215.55 1178.14 216.05 1179.21 216.29 1179.84C216.75 1181.04 217.55 1183.16 218.01 1184.36C218.25 1184.99 218.66 1186.08 218.90 1186.70C219.14 1187.32 219.58 1188.40 219.83 1189.02C220.38 1190.37 221.32 1192.73 221.87 1194.08C222.12 1194.70 222.25 1196.27 222.80 1196.40C224.26 1196.75 227.81 1195.48 229.40 1195.90C230.74 1196.25 232.45 1198.91 233.80 1199.30C235.60 1199.82 239.36 1198.88 241.20 1199.30C242.37 1199.57 244.01 1201.31 245.10 1201.90C245.98 1202.38 248.01 1203.75 248.60 1203.30C249.64 1202.50 250.65 1198.87 251.20 1197.20C251.82 1195.30 252.13 1191.45 253.00 1189.90C253.31 1189.35 254.90 1189.28 255.60 1189.30C256.66 1189.33 258.76 1190.52 259.60 1190.10C260.86 1189.48 262.57 1186.72 263.50 1185.40C263.88 1184.86 264.23 1183.72 264.50 1183.11C265.03 1181.88 265.97 1179.72 266.50 1178.49C266.77 1177.88 267.20 1176.80 267.50 1176.20C268.03 1175.14 268.87 1173.20 269.60 1172.30C270.13 1171.65 271.74 1171.05 272.20 1170.40C272.55 1169.89 272.52 1168.60 272.64 1167.94C272.89 1166.59 273.31 1164.21 273.56 1162.86C273.68 1162.20 273.88 1161.06 274.00 1160.40C274.12 1159.74 274.34 1158.60 274.46 1157.94C274.94 1155.41 275.76 1150.99 276.24 1148.46C276.36 1147.80 276.50 1146.63 276.70 1146.00C277.31 1144.08 278.43 1140.65 279.30 1138.90C279.47 1138.55 280.34 1137.90 280.60 1138.10C281.38 1138.72 282.62 1140.91 283.20 1142.00C283.51 1142.58 283.73 1143.75 283.93 1144.39C284.39 1145.92 285.21 1148.58 285.67 1150.11C285.87 1150.75 286.23 1151.86 286.40 1152.50C286.57 1153.14 286.82 1154.28 286.97 1154.93C287.57 1157.50 288.63 1162.00 289.23 1164.57C289.38 1165.22 289.65 1166.35 289.80 1167.00C289.95 1167.65 290.21 1168.79 290.36 1169.44C291.10 1172.70 292.40 1178.40 293.14 1181.66C293.29 1182.31 293.52 1183.46 293.70 1184.10C293.88 1184.74 294.29 1185.84 294.50 1186.47C295.14 1188.35 296.26 1191.65 296.90 1193.53C297.11 1194.16 297.42 1195.29 297.70 1195.90C298.68 1198.03 300.53 1201.71 301.60 1203.80C301.90 1204.39 302.52 1205.39 302.85 1205.97C303.60 1207.26 304.90 1209.54 305.65 1210.83C305.98 1211.41 306.56 1212.43 306.90 1213.00C307.93 1214.74 309.60 1217.90 310.80 1219.50C311.54 1220.49 313.47 1221.71 314.20 1222.70C315.23 1224.08 316.30 1227.30 317.40 1228.40C317.82 1228.82 319.23 1228.40 319.90 1228.40C333.07 1228.40 356.13 1228.40 369.30 1228.40C369.97 1228.40 371.29 1228.75 371.80 1228.40C373.00 1227.58 374.57 1225.07 375.70 1224.00C376.67 1223.07 378.91 1221.96 379.70 1220.90C381.01 1219.16 382.63 1215.50 383.60 1213.50C383.89 1212.90 384.21 1211.77 384.44 1211.14C385.03 1209.47 386.07 1206.53 386.66 1204.86C386.89 1204.23 387.23 1203.11 387.50 1202.50C388.30 1200.72 389.57 1197.34 390.70 1195.90C391.12 1195.37 392.71 1194.90 393.30 1195.10C394.12 1195.38 395.49 1196.86 396.00 1197.70C397.11 1199.53 398.53 1203.11 399.40 1205.10C399.67 1205.71 400.04 1206.82 400.27 1207.44C400.71 1208.65 401.49 1210.75 401.93 1211.96C402.16 1212.58 402.56 1213.68 402.80 1214.30C403.62 1216.41 404.79 1220.51 405.90 1222.20C406.18 1222.62 407.61 1222.51 408.00 1222.20C408.73 1221.61 409.43 1218.99 410.10 1218.80C410.63 1218.65 411.81 1220.41 412.50 1220.90C413.15 1221.37 414.33 1222.32 415.10 1222.40C416.79 1222.58 419.94 1222.01 421.70 1221.90C423.46 1221.79 426.66 1221.26 428.30 1221.60C429.33 1221.82 430.89 1223.25 431.70 1224.00C432.79 1225.01 434.18 1227.56 435.40 1228.20C436.42 1228.74 438.85 1228.37 440.10 1228.40C440.77 1228.42 441.93 1228.40 442.60 1228.40C448.41 1228.40 458.59 1228.40 464.40 1228.40C465.07 1228.40 466.50 1228.73 466.90 1228.40C467.30 1228.07 467.27 1226.60 467.40 1225.95C467.70 1224.54 468.20 1222.06 468.50 1220.65C468.63 1220.00 468.88 1218.85 469.00 1218.20C469.12 1217.55 469.31 1216.39 469.43 1215.74C469.63 1214.60 469.97 1212.60 470.17 1211.46C470.29 1210.81 470.21 1209.48 470.60 1209.00C471.31 1208.13 473.61 1207.27 474.30 1206.40C474.68 1205.92 474.52 1204.58 474.60 1203.92C475.00 1200.68 475.70 1195.02 476.10 1191.78C476.18 1191.12 476.33 1189.96 476.40 1189.30C476.47 1188.64 476.58 1187.48 476.64 1186.81C476.99 1183.23 477.61 1176.97 477.96 1173.39C478.02 1172.72 477.93 1171.47 478.20 1170.90C478.47 1170.32 479.47 1169.17 480.00 1169.10C480.51 1169.03 481.74 1170.55 482.10 1170.40C482.47 1170.25 482.58 1168.63 482.75 1167.99C483.12 1166.61 483.78 1164.19 484.15 1162.81C484.32 1162.17 484.64 1161.05 484.80 1160.40C484.96 1159.75 485.19 1158.61 485.33 1157.96C485.87 1155.42 486.83 1150.98 487.37 1148.44C487.51 1147.79 487.74 1146.65 487.90 1146.00C488.06 1145.35 488.40 1144.24 488.58 1143.59C488.91 1142.42 489.49 1140.38 489.82 1139.21C490.00 1138.56 490.15 1137.35 490.50 1136.80C491.10 1135.85 492.75 1133.44 493.40 1133.60C494.17 1133.79 495.25 1136.86 495.80 1138.10C496.07 1138.71 496.30 1139.86 496.48 1140.51C496.81 1141.68 497.39 1143.72 497.72 1144.89C497.90 1145.54 498.09 1146.72 498.40 1147.30C499.18 1148.75 500.92 1151.10 501.80 1152.50C502.76 1154.03 504.51 1156.70 505.30 1158.30C505.59 1158.89 505.71 1160.09 505.86 1160.74C506.17 1162.10 506.73 1164.50 507.04 1165.86C507.19 1166.51 507.41 1167.66 507.60 1168.30C508.12 1170.07 508.94 1173.24 509.70 1174.90C510.22 1176.04 511.79 1177.71 512.40 1178.80C512.72 1179.38 512.99 1180.54 513.20 1181.17C513.60 1182.36 514.30 1184.44 514.70 1185.63C514.91 1186.26 515.13 1187.46 515.50 1188.00C516.04 1188.79 517.30 1190.42 518.10 1190.60C518.85 1190.77 520.56 1189.82 521.30 1189.30C522.32 1188.57 523.94 1185.74 524.70 1185.90C525.54 1186.08 526.56 1189.38 527.30 1190.60C527.97 1191.70 529.11 1193.71 530.00 1194.60C530.74 1195.34 532.43 1196.46 533.40 1196.70C534.16 1196.89 535.80 1195.90 536.50 1196.20C537.70 1196.72 539.39 1198.89 540.50 1199.80C541.50 1200.62 543.21 1202.43 544.40 1202.70C546.01 1203.07 549.43 1201.71 551.00 1202.20C552.58 1202.70 554.64 1205.85 556.20 1206.40C557.44 1206.84 560.10 1205.83 561.50 1205.90C562.90 1205.97 565.96 1207.65 566.70 1206.90C567.91 1205.68 568.18 1200.72 568.80 1198.50C569.25 1196.88 569.81 1193.54 570.70 1192.50C571.14 1191.99 573.19 1193.12 573.80 1192.70C574.95 1191.92 576.48 1189.33 577.30 1188.00C578.11 1186.69 579.09 1184.11 579.90 1182.80C580.48 1181.87 581.76 1179.51 582.50 1179.60C583.50 1179.72 585.30 1182.60 586.40 1183.60C587.75 1184.84 590.26 1186.86 591.70 1188.00C593.09 1189.10 595.72 1190.81 597.00 1192.00C597.48 1192.45 597.95 1193.57 598.29 1194.14C598.86 1195.08 599.84 1196.72 600.41 1197.66C600.75 1198.23 601.18 1199.55 601.70 1199.80C602.35 1200.12 604.08 1200.11 604.80 1199.80C605.97 1199.29 607.95 1196.35 608.80 1196.70C610.05 1197.21 611.38 1201.92 612.70 1203.00C613.28 1203.47 615.19 1202.19 615.90 1202.50C616.95 1202.96 618.23 1205.40 619.30 1205.90C620.17 1206.31 622.26 1205.56 623.20 1205.90C624.58 1206.39 626.76 1208.11 628.00 1209.00C629.22 1209.87 631.23 1211.57 632.40 1212.50" fill="none" stroke="#FF0000" stroke-width="2.80" stroke-linejoin="round" stroke-linecap="round"/>
<text transform="translate(100.20 1026.50) scale(0.820 1)" font-size="19.50" text-anchor="middle" fill="#141414">I</text>
<text transform="translate(203.50 917.00) scale(0.820 1)" font-size="19.50" text-anchor="middle" fill="#141414">II</text>
<text transform="translate(279.30 1133.50) scale(0.820 1)" font-size="19.50" text-anchor="middle" fill="#141414">III</text>
<text transform="translate(391.00 1184.80) scale(0.820 1)" font-size="19.50" text-anchor="middle" fill="#141414">IV</text>
<text transform="translate(494.50 1124.50) scale(0.820 1)" font-size="19.50" text-anchor="middle" fill="#141414">V</text>
<text transform="translate(588.60 1169.10) scale(0.820 1)" font-size="19.50" text-anchor="middle" fill="#141414">VI</text>
</svg>
</body></html>
